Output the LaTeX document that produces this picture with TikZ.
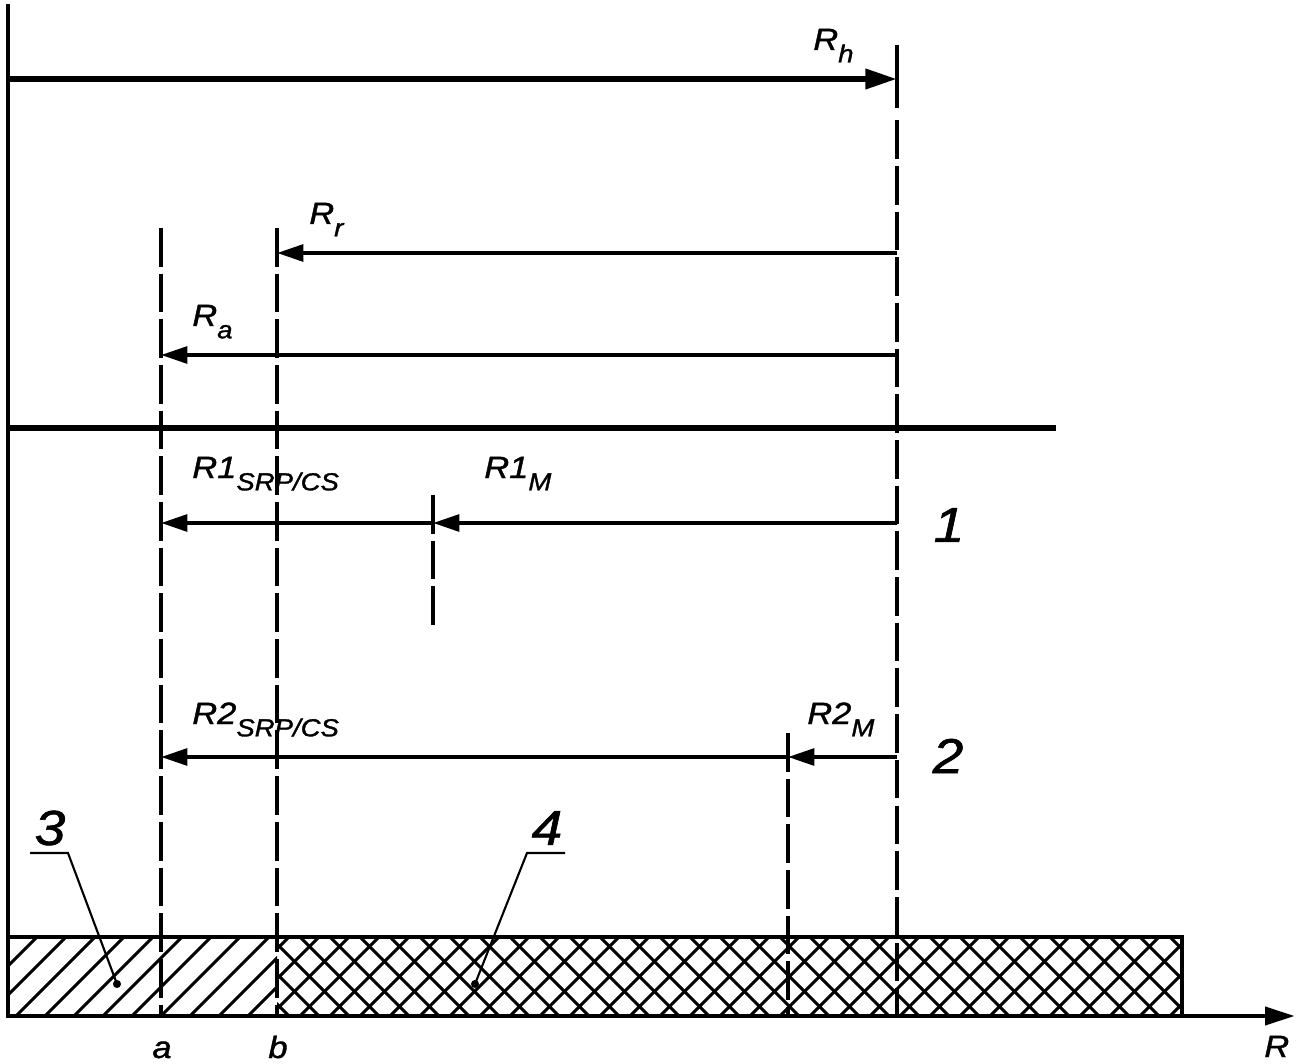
\documentclass[tikz,border=0pt]{standalone}
\usepackage{fontspec}
\setmainfont{Liberation Sans}[FakeStretch=1.12, FakeBold=1.3]
\usetikzlibrary{arrows.meta}

\newcommand{\indice}[1]{\raisebox{-7pt}{\fontsize{14}{14}\selectfont #1}}

\begin{document}
\begin{tikzpicture}[
    x=0.02cm,
    y=-0.02cm,
    eixo/.style={
        line width=2.8pt
    },
    guia/.style={
        line width=2.2pt,
        dash pattern=on 22pt off 4pt
    },
    cota/.style={
        line width=2.2pt,
        -{Triangle[length=15pt, width=9.5pt]}
    },
    cotaforte/.style={
        line width=3.4pt,
        -{Triangle[length=18pt, width=11pt]}
    },
    hachura/.style={
        line width=1.7pt
    },
    chamada/.style={
        line width=1.2pt
    },
    rotulo/.style={
        inner sep=0pt,
        font=\fontsize{17.5}{17.5}\selectfont\itshape
    },
    numero/.style={
        inner sep=0pt,
        font=\fontsize{28}{28}\selectfont\itshape
    }
]
\useasboundingbox (0,0) rectangle (1299,1064);

% =================================================
% PONTOS DE REFERENCIA
% =================================================

% eixos verticais
\coordinate (O) at (8,1016);
\coordinate (topo) at (8,4);
\coordinate (fimR) at (1295,1016);

% guias tracejadas
\coordinate (a) at (161,228);
\coordinate (b) at (277,228);
\coordinate (m1) at (433,495);
\coordinate (m2) at (788,733);
\coordinate (h) at (897,45);
\coordinate (h1) at (897,108);

% alturas das cotas
\coordinate (yh) at (0,79);
\coordinate (yr) at (0,253);
\coordinate (ya) at (0,355);
\coordinate (y1) at (0,523);
\coordinate (y2) at (0,757);
\coordinate (ybase) at (0,1016);

% linha divisoria
\coordinate (div0) at (8,428);
\coordinate (div1) at (1056,428);


% =================================================
% BARRA HACHURADA
% =================================================

\begin{scope}
    \clip (8,937) rectangle (277,1016);
    \foreach \x in {-100,-71,...,300}
        \draw[hachura] (\x,1016) -- ++(79,-79);
\end{scope}

\begin{scope}
    \clip (277,937) rectangle (1182,1016);
    \foreach \x in {180,210,...,1200} {
        \draw[hachura] (\x,1016) -- ++(79,-79);
        \draw[hachura] (\x,937) -- ++(79,79);
    }
\end{scope}

\draw[eixo] (8,937) rectangle (1182,1016);


% =================================================
% EIXOS
% =================================================

\draw[eixo] (topo) -- (O);
\draw[eixo, -{Triangle[length=17pt, width=10pt]}] (O) -- (fimR);
\draw[line width=3.2pt] (div0) -- (div1);

\node[rotulo, anchor=base west] (lR) at (1264,1057) {R};
\node[rotulo, anchor=base] (la) at (162,1058) {a};
\node[rotulo, anchor=base] (lb) at (278,1058) {b};


% =================================================
% GUIAS
% =================================================

\draw[guia] (a) -- (a |- ybase);
\draw[guia] (b) -- (b |- ybase);
\draw[guia] (m1) -- (433,628);
\draw[guia] (m2) -- (m2 |- ybase);
\draw[line width=2.2pt] (h) -- (h1);
\draw[guia] ([yshift=-7pt]h1) -- (h |- ybase);


% =================================================
% COTAS
% =================================================

% R_h
\draw[cotaforte] (topo |- yh) -- (h |- yh);
\node[rotulo, anchor=base west] (lh) at (813,50) {R\indice{h}};

% R_r e R_a
\draw[cota] (h |- yr) -- (b |- yr);
\node[rotulo, anchor=base west] (lr) at (309,224) {R\indice{r}};

\draw[cota] (h |- ya) -- (a |- ya);
\node[rotulo, anchor=base west] (lra) at (192,326) {R\indice{a}};

% caso 1
\draw[cota] (h |- y1) -- (m1 |- y1);
\draw[cota] (m1 |- y1) -- (a |- y1);
\node[rotulo, anchor=base west] (l1s) at (192,478) {R1\indice{SRP/CS}};
\node[rotulo, anchor=base west] (l1m) at (484,478) {R1\indice{M}};
\node[numero] (n1) at (949,525) {1};

% caso 2
\draw[cota] (h |- y2) -- (m2 |- y2);
\draw[cota] (m2 |- y2) -- (a |- y2);
\node[rotulo, anchor=base west] (l2s) at (192,724) {R2\indice{SRP/CS}};
\node[rotulo, anchor=base west] (l2m) at (807,724) {R2\indice{M}};
\node[numero] (n2) at (948,756) {2};


% =================================================
% CHAMADAS 3 E 4
% =================================================

\node[numero] (n3) at (50,828) {3};
\coordinate (c3a) at (30,853);
\coordinate (c3b) at (68,853);
\coordinate (c3c) at (117,984);
\draw[chamada] (c3a) -- (c3b) -- (c3c);
\fill (c3c) circle[radius=2.3pt];

\node[numero] (n4) at (547,828) {4};
\coordinate (c4a) at (565,853);
\coordinate (c4b) at (527,853);
\coordinate (c4c) at (475,984);
\draw[chamada] (c4a) -- (c4b) -- (c4c);
\fill (c4c) circle[radius=2.3pt];

\end{tikzpicture}
\end{document}
